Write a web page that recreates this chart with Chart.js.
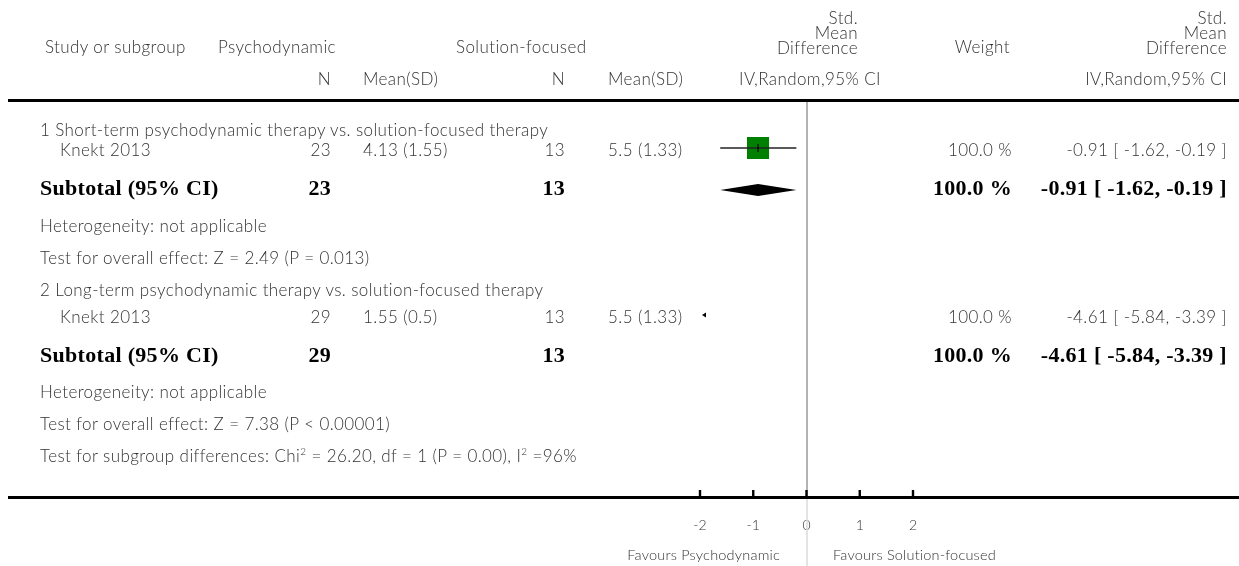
<!DOCTYPE html>
<html><head><meta charset="utf-8">
<script src="https://cdn.jsdelivr.net/npm/chart.js@4"></script>
<style>
html,body{margin:0;padding:0;background:#fff;}
#wrap{position:relative;width:1239px;height:566px;overflow:hidden;background:#fff;}
canvas{position:absolute;left:0;top:0;}
.t{position:absolute;white-space:nowrap;font-family:Lato,"Open Sans",sans-serif;font-weight:300;font-size:17px;letter-spacing:0.4px;color:#333;line-height:20px;height:20px;}
.s{font-size:14.5px;letter-spacing:0.2px;line-height:18px;height:18px;}
.b{font-family:"Liberation Serif","Times New Roman",serif;font-weight:bold;font-size:22px;letter-spacing:0.3px;color:#000;line-height:24px;height:24px;}
sup{font-size:10px;line-height:0;}
</style></head><body><div id="wrap"><canvas id="c" width="1239" height="566"></canvas></div>
<script>
// ---- data ----
const subgroupTitles = ['1 Short-term psychodynamic therapy vs. solution-focused therapy',
                        '2 Long-term psychodynamic therapy vs. solution-focused therapy'];
const studyNames = ['Knekt 2013', 'Knekt 2013'];
const psyN = [23, 29];
const psyMean = [4.13, 1.55];
const psySD = [1.55, 0.5];
const sfN = [13, 13];
const sfMean = [5.5, 5.5];
const sfSD = [1.33, 1.33];
const weights = [100.0, 100.0];
const smd = [-0.91, -4.61];
const ciLow = [-1.62, -5.84];
const ciHigh = [-0.19, -3.39];
const subtotalN1 = [23, 29];
const subtotalN2 = [13, 13];
const subtotalWeight = [100.0, 100.0];
const subtotalSmd = [-0.91, -4.61];
const subtotalLow = [-1.62, -5.84];
const subtotalHigh = [-0.19, -3.39];
const heterogeneity = ['Heterogeneity: not applicable', 'Heterogeneity: not applicable'];
const overallZ = [2.49, 7.38];
const overallP = ['P = 0.013', 'P < 0.00001'];
const subgroupDiff = {chi2: 26.20, df: 1, p: 'P = 0.00', i2: 96};
const xTicks = [-2, -1, 0, 1, 2];
const xMin = -2, xMax = 2;
const favoursLeft = 'Favours Psychodynamic';
const favoursRight = 'Favours Solution-focused';

// ---- layout (row centre positions, page pixels) ----
const rows = [
  {title: 130, study: 150, subtotal: 188, het: 226, eff: 258},
  {title: 290, study: 317, subtotal: 355, het: 392, eff: 424}
];
const diffRow = 456;
const W = 1239, H = 566;
const wrap = document.getElementById('wrap');

function place(html, x, y, align, cls) {
  const d = document.createElement('div');
  d.className = 't' + (cls ? ' ' + cls : '');
  d.innerHTML = html;
  const lh = cls && cls.includes('b') ? 24 : (cls && cls.includes('s') ? 18 : 20);
  d.style.top = (y - lh / 2) + 'px';
  if (align === 'right') d.style.right = (W - x) + 'px';
  else if (align === 'center') { d.style.left = x + 'px'; d.style.transform = 'translateX(-50%)'; }
  else d.style.left = x + 'px';
  wrap.appendChild(d);
}
const f2 = v => v.toFixed(2);
const ciText = (e, l, h) => f2(e) + ' [ ' + f2(l) + ', ' + f2(h) + ' ]';

// header
place('Study or subgroup', 45, 47, 'left');
place('Psychodynamic', 218, 47, 'left');
place('Solution-focused', 456, 47, 'left');
place('Std.', 858, 18, 'right'); place('Mean', 858, 33, 'right'); place('Difference', 858, 48, 'right');
place('Weight', 1010, 47, 'right');
place('Std.', 1227, 18, 'right'); place('Mean', 1227, 33, 'right'); place('Difference', 1227, 48, 'right');
place('N', 331, 79, 'right'); place('Mean(SD)', 363, 79, 'left');
place('N', 565, 79, 'right'); place('Mean(SD)', 608, 79, 'left');
place('IV,Random,95% CI', 810, 79, 'center');
place('IV,Random,95% CI', 1227, 79, 'right');

rows.forEach((r, i) => {
  place(subgroupTitles[i], 40, r.title, 'left');
  place(studyNames[i], 60, r.study, 'left');
  place(String(psyN[i]), 331, r.study, 'right');
  place(psyMean[i] + ' (' + psySD[i] + ')', 363, r.study, 'left');
  place(String(sfN[i]), 565, r.study, 'right');
  place(sfMean[i] + ' (' + sfSD[i] + ')', 608, r.study, 'left');
  place(weights[i].toFixed(1) + ' %', 1012, r.study, 'right');
  place(ciText(smd[i], ciLow[i], ciHigh[i]), 1227, r.study, 'right');
  place('Subtotal (95% CI)', 40, r.subtotal, 'left', 'b');
  place(String(subtotalN1[i]), 331, r.subtotal, 'right', 'b');
  place(String(subtotalN2[i]), 565, r.subtotal, 'right', 'b');
  place(subtotalWeight[i].toFixed(1) + ' %', 1012, r.subtotal, 'right', 'b');
  place(ciText(subtotalSmd[i], subtotalLow[i], subtotalHigh[i]), 1227, r.subtotal, 'right', 'b');
  place(heterogeneity[i], 40, r.het, 'left');
  place('Test for overall effect: Z = ' + overallZ[i].toFixed(2) + ' (' + overallP[i] + ')', 40, r.eff, 'left');
});
place('Test for subgroup differences: Chi<sup>2</sup> = ' + subgroupDiff.chi2.toFixed(2) + ', df = ' + subgroupDiff.df +
      ' (' + subgroupDiff.p + '), I<sup>2</sup> =' + subgroupDiff.i2 + '%', 40, diffRow, 'left');
place(favoursLeft, 780, 555, 'right', 's');
place(favoursRight, 833, 555, 'left', 's');

// ---- chart ----
const AREA_TOP = 100, AREA_BOTTOM = 497;
const datasets = [];
rows.forEach((r, i) => {
  datasets.push({type: 'scatter', data: [{x: smd[i], y: r.study - 2}], pointStyle: 'rect',
    pointRadius: 15.6 * Math.sqrt(weights[i] / 100), pointBackgroundColor: '#008000', pointBorderWidth: 0, order: 3});
  datasets.push({type: 'line', data: [{x: ciLow[i], y: r.study - 2}, {x: ciHigh[i], y: r.study - 2}],
    borderColor: '#222', borderWidth: 1.5, pointRadius: 0, order: 2});
  const dy = 6, cy = r.subtotal + 2;
  datasets.push({type: 'line', data: [{x: subtotalLow[i], y: cy}, {x: subtotalSmd[i], y: cy - dy},
      {x: subtotalHigh[i], y: cy}, {x: subtotalSmd[i], y: cy + dy}, {x: subtotalLow[i], y: cy}],
    borderWidth: 0, borderColor: '#000', backgroundColor: '#000', fill: 'shape', pointRadius: 0, tension: 0, order: 1});
});

const decor = {
  id: 'decor',
  beforeDatasetsDraw(chart) {
    const ctx = chart.ctx, xs = chart.scales.x;
    const x0 = Math.round(xs.getPixelForValue(0));
    ctx.save();
    ctx.fillStyle = '#9a9a9a';
    ctx.fillRect(x0 - 0.75, AREA_TOP, 1.5, AREA_BOTTOM - AREA_TOP);
    ctx.fillStyle = '#dcdcdc';
    ctx.fillRect(x0 - 0.75, AREA_BOTTOM, 1.5, H - AREA_BOTTOM);
    ctx.restore();
  },
  afterDraw(chart) {
    const ctx = chart.ctx, xs = chart.scales.x, ys = chart.scales.y;
    ctx.save();
    ctx.fillStyle = '#000';
    ctx.fillRect(8, 99, W - 8, 3);
    ctx.fillRect(8, 496, W - 8, 3);
    xTicks.forEach(t => {
      const px = xs.getPixelForValue(t);
      ctx.fillRect(px - 1.2, 490, 2.4, 7);
    });
    rows.forEach((r, i) => {
      const py = ys.getPixelForValue(r.study - 2);
      if (smd[i] >= xMin && smd[i] <= xMax) {
        const px = xs.getPixelForValue(smd[i]);
        ctx.fillRect(px - 0.6, py - 4, 1.2, 8);
      }
      if (ciLow[i] < xMin) {
        const px = xs.getPixelForValue(xMin) + 1;
        ctx.beginPath(); ctx.moveTo(px + 1, py); ctx.lineTo(px + 5, py - 2.5); ctx.lineTo(px + 5, py + 2.5); ctx.closePath(); ctx.fill();
      }
      if (ciHigh[i] > xMax) {
        const px = xs.getPixelForValue(xMax) - 1;
        ctx.beginPath(); ctx.moveTo(px - 1, py); ctx.lineTo(px - 5, py - 2.5); ctx.lineTo(px - 5, py + 2.5); ctx.closePath(); ctx.fill();
      }
    });
    ctx.restore();
  }
};

new Chart(document.getElementById('c'), {
  data: {datasets},
  options: {
    responsive: false, animation: false, devicePixelRatio: 1,
    layout: {padding: {left: 700, right: W - 913, top: AREA_TOP, bottom: 0}},
    plugins: {legend: {display: false}, tooltip: {enabled: false}},
    scales: {
      x: {type: 'linear', min: xMin, max: xMax,
        grid: {display: false, drawTicks: false}, border: {display: false},
        afterBuildTicks: s => { s.ticks = xTicks.map(v => ({value: v})); },
        afterFit: s => { s.height = H - AREA_BOTTOM; },
        ticks: {padding: 20, color: '#333', font: {family: 'Lato', size: 14, weight: 300},
          callback: v => String(v)}},
      y: {type: 'linear', display: false, reverse: true, min: AREA_TOP, max: AREA_BOTTOM}
    }
  },
  plugins: [decor]
});
</script></body></html>
